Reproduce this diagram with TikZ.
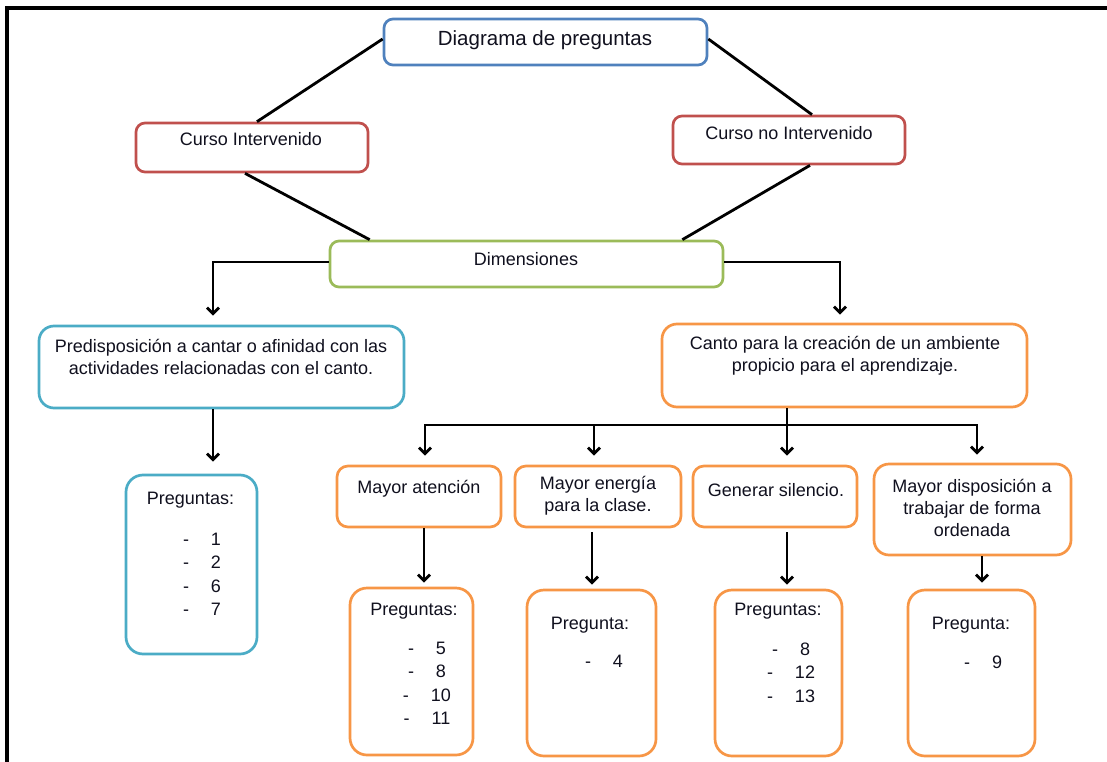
\documentclass[tikz,border=0pt]{standalone}
\usepackage{fontspec}
\setmainfont{Liberation Sans}
\usetikzlibrary{arrows.meta,calc}
\definecolor{cblue}{HTML}{4F81BD}
\definecolor{cred}{HTML}{C0504D}
\definecolor{cgreen}{HTML}{9BBB59}
\definecolor{ccyan}{HTML}{4BACC6}
\definecolor{corange}{HTML}{F79646}
\definecolor{ctext}{HTML}{10101E}
\begin{document}
\begin{tikzpicture}[x=1pt,y=-1pt,
 box/.style={draw, line width=2.7pt, fill=white, inner sep=0pt, rounded corners=9pt},
 bigbox/.style={box, rounded corners=17pt},
 txt/.style={inner sep=0pt, align=center, text=ctext, font=\fontsize{18}{22}\selectfont},
 lst/.style={txt, font=\fontsize{18}{23.5}\selectfont},
 conn/.style={line width=2.8pt, black},
 arr/.style={conn, -{Straight Barb[length=6pt,width=12pt]}},
 arrs/.style={conn, {Straight Barb[length=6pt,width=12pt]}-{Straight Barb[length=6pt,width=12pt]}},
]
\useasboundingbox (0,0) rectangle (1107,762);
% frame
\draw[line width=3.6pt] (1107,8) -- (7,8) -- (7,762);

% boxes
\node[box, draw=cblue, minimum width=323pt, minimum height=46pt] (ttl) at (545.5,42) {};
\node[box, draw=cred, minimum width=232pt, minimum height=49pt] (ci) at (252,147.5) {};
\node[box, draw=cred, minimum width=232pt, minimum height=48pt] (cni) at (789,140) {};
\node[box, draw=cgreen, minimum width=393pt, minimum height=46pt] (dim) at (526.5,264) {};
\node[box, draw=ccyan, rounded corners=15pt, minimum width=365pt, minimum height=82pt] (pre) at (221.5,367) {};
\node[box, draw=corange, rounded corners=15pt, minimum width=365pt, minimum height=83pt] (can) at (844.5,365.5) {};
\node[bigbox, draw=ccyan, minimum width=131pt, minimum height=179pt] (p1) at (191.5,564.5) {};
\node[box, draw=corange, rounded corners=11pt, minimum width=164pt, minimum height=61pt] (ma) at (419,496.5) {};
\node[box, draw=corange, rounded corners=11pt, minimum width=166pt, minimum height=61pt] (me) at (598,496.5) {};
\node[box, draw=corange, rounded corners=11pt, minimum width=164pt, minimum height=61pt] (gs) at (775,496.5) {};
\node[box, draw=corange, rounded corners=15pt, minimum width=197pt, minimum height=91pt] (md) at (972.5,509.5) {};
\node[bigbox, draw=corange, minimum width=123pt, minimum height=167pt] (q1) at (411.5,671.5) {};
\node[bigbox, draw=corange, minimum width=129pt, minimum height=166pt] (q2) at (591.5,673) {};
\node[bigbox, draw=corange, minimum width=127pt, minimum height=166pt] (q3) at (778.5,673) {};
\node[bigbox, draw=corange, minimum width=127pt, minimum height=166pt] (q4) at (971.5,673) {};

% connectors
\draw[conn] ($(ttl.west)+(0,-3)$) -- ($(ci.north)+(5,0)$);
\draw[conn] ($(ttl.east)+(0,-3)$) -- ($(cni.north)+(23,0)$);
\draw[conn] ($(ci.south)+(-7,0)$) -- ($(dim.north west)+(41,0)$);
\draw[conn] ($(cni.south)+(21,0)$) -- ($(dim.north east)+(-42,0)$);
\draw[arr, shorten >=9pt] ($(dim.west)+(0,-2)$) -| ($(pre.north)+(-8.5,0)$);
\draw[arr, shorten >=8pt] ($(dim.east)+(0,-2)$) -| ($(can.north)+(-4.5,0)$);

\coordinate (bl) at (425,425);
\coordinate (b2) at (594,425);
\coordinate (bm) at (787,425);
\coordinate (br) at (977,425);
\draw[conn] ($(can.south)+(-57.5,0)$) -- (bm);
\draw[arrs, shorten <=9pt, shorten >=8pt] (bl |- ma.north) -- (bl) -- (br) -- (br |- md.north);
\draw[arr, shorten >=9pt] (b2) -- (b2 |- me.north);
\draw[arr, shorten >=9pt] (bm) -- (bm |- gs.north);

\coordinate (a1) at ($(pre.south)+(-8.5,0)$);
\coordinate (a2) at ($(ma.south)+(5,0)$);
\coordinate (a3) at ($(me.south)+(-6,0)$);
\coordinate (a4) at ($(gs.south)+(12,0)$);
\coordinate (a5) at ($(md.south)+(9.5,0)$);
\draw[arr, shorten >=12pt] (a1) -- (a1 |- p1.north);
\draw[arr, shorten >=4pt] (a2) -- (a2 |- q1.north);
\draw[arr, shorten <=4pt, shorten >=4pt] (a3) -- (a3 |- q2.north);
\draw[arr, shorten <=4pt, shorten >=4pt] (a4) -- (a4 |- q3.north);
\draw[arr, shorten >=6pt] (a5) -- (a5 |- q4.north);

% texts
\node[txt, font=\fontsize{20.5}{24}\selectfont] (ttl-t) at (545,40) {Diagrama de preguntas};
\node[txt] (ci-t) at (251,139) {Curso Intervenido};
\node[txt] (cni-t) at (789,133) {Curso no Intervenido};
\node[txt] (dim-t) at (526,259) {Dimensiones};
\node[txt] (pre-t) at (221,357) {Predisposición a cantar o afinidad con las\\actividades relacionadas con el canto.};
\node[txt] (can-t) at (845,356) {Canto para la creación de un ambiente\\propicio para el aprendizaje.};
\node[txt] (p1-t) at (190.5,500) {Preguntas:};
\node[lst] (p1-l) at (202,574.5) {-\hspace{22pt}1\\-\hspace{22pt}2\\-\hspace{22pt}6\\-\hspace{22pt}7};
\node[txt] (ma-t) at (419,489) {Mayor atención};
\node[txt] (me-t) at (598,496) {Mayor energía\\para la clase.};
\node[txt] (gs-t) at (776,490) {Generar silencio.};
\node[txt] (md-t) at (972,508) {Mayor disposición a\\trabajar de forma\\ordenada};
\node[txt] (q1-t) at (414,611) {Preguntas:};
\node[lst] (q1-l) at (427,683.5) {-\hspace{22pt}5\\-\hspace{22pt}8\\-\hspace{22pt}10\\-\hspace{22pt}11};
\node[txt] (q2-t) at (590,625) {Pregunta:};
\node[lst] (q2-l) at (604,661) {-\hspace{22pt}4};
\node[txt] (q3-t) at (778,611) {Preguntas:};
\node[lst] (q3-l) at (791,672.5) {-\hspace{22pt}8\\-\hspace{22pt}12\\-\hspace{22pt}13};
\node[txt] (q4-t) at (971,625) {Pregunta:};
\node[lst] (q4-l) at (983,662) {-\hspace{22pt}9};
\end{tikzpicture}
\end{document}
